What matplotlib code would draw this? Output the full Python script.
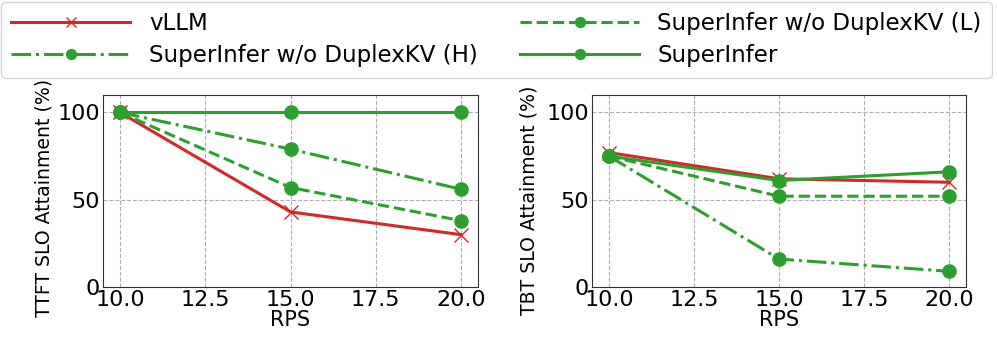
import matplotlib
matplotlib.use("Agg")
import matplotlib.pyplot as plt

# RPS values
rps = [10, 15, 20]

# TTFT SLO attainment (%)
ttft_vllm = [100, 43, 30]
ttft_low = [100, 57, 38]
ttft_high = [100, 79, 56]
ttft_super = [100, 100, 100]

# TBT SLO attainment (%)
tbt_vllm = [77, 62, 60]
tbt_low = [75, 52, 52]
tbt_high = [75, 16, 9]
tbt_super = [75, 61, 66]

labels = ["vLLM", "SuperInfer w/o DuplexKV (L)",
          "SuperInfer w/o DuplexKV (H)", "SuperInfer"]

red = "#d62728"
green = "#2ca02c"

fig = plt.figure(figsize=(9.97, 3.38), dpi=100)
ax1 = fig.add_axes([103 / 997, 1 - 287 / 338, 375 / 997, 192 / 338])
ax2 = fig.add_axes([592 / 997, 1 - 287 / 338, 374 / 997, 192 / 338])


def draw(ax, vllm, low, high, sup, ylabel, lx, ly):
    ax.plot(rps, vllm, color=red, lw=2.2, marker="x", ms=9.5, label=labels[0])
    ax.plot(rps, low, color=green, lw=2.2, ls="--", marker="o", ms=9.5, label=labels[1])
    ax.plot(rps, high, color=green, lw=2.2, ls="-.", marker="o", ms=9.5, label=labels[2])
    ax.plot(rps, sup, color=green, lw=2.2, marker="o", ms=9.5, label=labels[3])
    ax.set_ylim(0, 110)
    ax.set_xlim(9.5, 20.5)
    ax.set_xticks([10, 12.5, 15, 17.5, 20])
    ax.set_xticklabels(["10.0", "12.5", "15.0", "17.5", "20.0"])
    ax.set_yticks([0, 50, 100])
    ax.grid(True, ls="--", color="#b0b0b0", lw=0.8)
    ax.tick_params(labelsize=16, length=0, pad=2)
    for s in ax.spines.values():
        s.set_color("#333333")
    ax.set_xlabel("RPS", fontsize=15, labelpad=0)
    ax.set_ylabel(ylabel, fontsize=13.6)
    ax.yaxis.set_label_coords(lx, ly)


draw(ax1, ttft_vllm, ttft_low, ttft_high, ttft_super,
     "TTFT SLO Attainment (%)", -0.133, 0.464)
draw(ax2, tbt_vllm, tbt_low, tbt_high, tbt_super,
     "TBT SLO Attainment (%)", -0.142, 0.453)

h, l = ax1.get_legend_handles_labels()
order = [0, 2, 1, 3]
fig.legend([h[i] for i in order], [l[i] for i in order], ncol=2,
           loc="upper left", bbox_to_anchor=(1 / 997, 1 - 2 / 338, 991 / 997, 0),
           mode="expand", fontsize=16.5, handlelength=5.2, handletextpad=0.8,
           labelspacing=0.4, borderpad=0.45, markerscale=0.75,
           borderaxespad=0, frameon=True, edgecolor="#cccccc")

fig.savefig("out.png", dpi=100)
